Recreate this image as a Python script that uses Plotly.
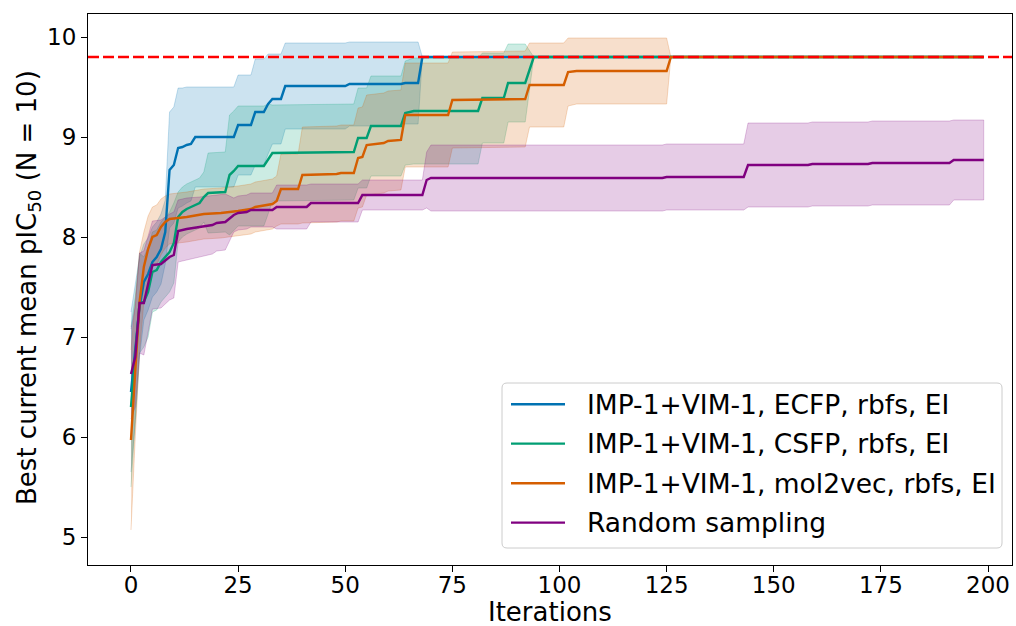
import plotly.graph_objects as go

# ---------------- data ----------------
names = ["IMP-1+VIM-1, ECFP, rbfs, EI",
         "IMP-1+VIM-1, CSFP, rbfs, EI",
         "IMP-1+VIM-1, mol2vec, rbfs, EI",
         "Random sampling"]

blue_it = [0, 1, 2, 3, 4, 5, 6, 7, 8, 9, 10, 11, 12, 13, 14, 15,
           24, 25, 28, 29, 31, 32, 33, 35, 36, 50, 51, 63, 64, 67, 68, 199]
blue_mean = [6.45, 6.85, 7.30, 7.55, 7.63, 7.75, 7.80, 7.88, 8.05, 8.67, 8.72, 8.89, 8.90, 8.92, 8.93, 9.00,
             9.00, 9.12, 9.12, 9.25, 9.25, 9.33, 9.38, 9.38, 9.51, 9.51, 9.53, 9.53, 9.54, 9.54, 9.80, 9.80]
blue_std = [0.80, 0.70, 0.50, 0.38, 0.36, 0.35, 0.35, 0.35, 0.32, 0.58, 0.58, 0.60, 0.59, 0.58, 0.57, 0.50,
            0.50, 0.50, 0.50, 0.53, 0.53, 0.50, 0.45, 0.45, 0.43, 0.43, 0.42, 0.42, 0.41, 0.41, 0.00, 0.00]

green_it = [0, 1, 2, 3, 4, 5, 6, 7, 8, 9, 10, 11, 12, 13, 14,
            16, 17, 18, 22, 23, 24, 25, 31, 32, 33, 52, 53, 55, 56, 63, 64, 66, 81, 82, 87, 88, 92, 93, 94, 199]
green_mean = [6.30, 6.80, 7.34, 7.35, 7.45, 7.65, 7.67, 7.75, 7.80, 7.85, 7.94, 8.20, 8.25, 8.28, 8.30,
              8.34, 8.40, 8.44, 8.45, 8.62, 8.66, 8.71, 8.71, 8.78, 8.84, 8.85, 8.99, 8.99, 9.11, 9.11,
              9.24, 9.26, 9.26, 9.39, 9.39, 9.54, 9.54, 9.67, 9.80, 9.80]
green_std = [0.80, 0.60, 0.50, 0.45, 0.45, 0.40, 0.40, 0.40, 0.40, 0.40, 0.40, 0.25, 0.25, 0.25, 0.25,
             0.25, 0.25, 0.40, 0.40, 0.60, 0.60, 0.60, 0.60, 0.55, 0.48, 0.48, 0.50, 0.50, 0.50, 0.50,
             0.52, 0.53, 0.53, 0.45, 0.45, 0.39, 0.39, 0.20, 0.00, 0.00]

orange_it = [0, 1, 2, 3, 4, 5, 6, 7, 8, 9,
             13, 17, 21, 25, 28, 29, 33, 34, 35, 39, 40, 48, 49, 52, 53, 54, 55, 59, 60, 63,
             64, 74, 75, 92, 93, 101, 102, 104, 125, 126, 199]
orange_mean = [5.97, 6.70, 7.35, 7.70, 7.88, 8.00, 8.02, 8.10, 8.15, 8.18,
               8.20, 8.23, 8.24, 8.26, 8.28, 8.30, 8.33, 8.36, 8.48, 8.48, 8.62, 8.63, 8.64, 8.64,
               8.79, 8.80, 8.92, 8.94, 8.96, 8.97, 9.22, 9.22, 9.37, 9.38, 9.52, 9.52, 9.65, 9.66,
               9.66, 9.80, 9.80]
orange_std = [0.90, 0.70, 0.50, 0.35, 0.33, 0.30, 0.30, 0.28, 0.26, 0.25,
              0.25, 0.25, 0.25, 0.25, 0.25, 0.25, 0.25, 0.25, 0.35, 0.35, 0.48, 0.48, 0.48, 0.48,
              0.50, 0.50, 0.50, 0.50, 0.50, 0.50, 0.52, 0.52, 0.48, 0.48, 0.42, 0.42, 0.34, 0.33,
              0.33, 0.00, 0.00]

purple_it = [0, 1, 2, 3, 5, 7, 9, 10, 11, 13, 16, 19, 20, 22, 24, 25, 27, 28, 33, 34,
             41, 42, 53, 54, 68, 69, 70, 124, 125, 143, 144, 158, 159, 172, 173, 191, 192, 199]
purple_mean = [6.63, 6.80, 7.34, 7.34, 7.72, 7.73, 7.80, 7.82, 8.06, 8.08, 8.10, 8.12, 8.14, 8.15,
               8.22, 8.24, 8.25, 8.27, 8.27, 8.30, 8.30, 8.34, 8.34, 8.42, 8.42, 8.57, 8.59, 8.59,
               8.60, 8.60, 8.72, 8.72, 8.73, 8.73, 8.74, 8.74, 8.77, 8.77]
purple_std = [0.45, 0.50, 0.50, 0.52, 0.44, 0.44, 0.43, 0.43, 0.31, 0.31, 0.30, 0.29, 0.28, 0.28,
              0.17, 0.17, 0.17, 0.17, 0.17, 0.22, 0.22, 0.19, 0.19, 0.15, 0.15, 0.28, 0.33, 0.33,
              0.33, 0.33, 0.42, 0.42, 0.42, 0.42, 0.42, 0.42, 0.40, 0.40]

target_value = 9.8
x_ticks = [0, 25, 50, 75, 100, 125, 150, 175, 200]
y_ticks = [5, 6, 7, 8, 9, 10]
x_title = "Iterations"
y_title = "Best current mean pIC<sub>50</sub> (N = 10)"

colors = ["#0072B2", "#009E73", "#D55E00", "#800080"]
band_fill = ["rgba(0,114,178,0.2)", "rgba(0,158,115,0.2)", "rgba(213,94,0,0.2)", "rgba(128,0,128,0.2)"]
band_edge = ["rgba(0,114,178,0.22)", "rgba(0,158,115,0.22)", "rgba(213,94,0,0.22)", "rgba(128,0,128,0.22)"]

series = [(blue_it, blue_mean, blue_std),
          (green_it, green_mean, green_std),
          (orange_it, orange_mean, orange_std),
          (purple_it, purple_mean, purple_std)]

FONT = "DejaVu Sans"
W, H = 1016, 626
ML, MR, MT, MB = 88, 4, 14, 61
PW, PH = W - ML - MR, H - MT - MB


def px(xp):
    return (xp - ML) / PW


def py(yp):
    return (H - MB - yp) / PH


fig = go.Figure()

# bands
for k, (it, m, s) in enumerate(series):
    upper = [a + b for a, b in zip(m, s)]
    lower = [a - b for a, b in zip(m, s)]
    fig.add_trace(go.Scatter(
        x=list(it) + list(it)[::-1],
        y=upper + lower[::-1],
        fill="toself", fillcolor=band_fill[k],
        line=dict(color=band_edge[k], width=1),
        mode="lines", showlegend=False, hoverinfo="skip"))

# mean lines
for k, (it, m, s) in enumerate(series):
    fig.add_trace(go.Scatter(
        x=it, y=m, mode="lines", name=names[k], showlegend=False,
        line=dict(color=colors[k], width=2.4)))

fig.add_shape(type="line", xref="paper", x0=0, x1=1, yref="y",
              y0=target_value, y1=target_value,
              line=dict(color="#ff0000", width=2.5, dash="11px,4px"))

# ---- legend box (matplotlib-style, rounded) ----
bx0, bx1, by0, by1 = 502, 1002, 383, 548
r = 5
rx, ry = r / PW, r / PH
X0, X1, Y0, Y1 = px(bx0), px(bx1), py(by1), py(by0)
path = (f"M{X0+rx},{Y0} L{X1-rx},{Y0} Q{X1},{Y0} {X1},{Y0+ry} "
        f"L{X1},{Y1-ry} Q{X1},{Y1} {X1-rx},{Y1} L{X0+rx},{Y1} Q{X0},{Y1} {X0},{Y1-ry} "
        f"L{X0},{Y0+ry} Q{X0},{Y0} {X0+rx},{Y0} Z")
fig.add_shape(type="path", xref="paper", yref="paper", path=path,
              line=dict(color="#cccccc", width=1), fillcolor="rgba(255,255,255,0.8)",
              layer="above")
entry_y = [404.3, 443.6, 483.2, 522.6]
for k in range(4):
    fig.add_shape(type="line", xref="paper", yref="paper",
                  x0=px(511), x1=px(565), y0=py(entry_y[k]), y1=py(entry_y[k]),
                  line=dict(color=colors[k], width=2.4), layer="above")
    fig.add_annotation(xref="paper", yref="paper", x=px(585), y=py(entry_y[k]),
                       text=names[k], showarrow=False, xanchor="left", yanchor="middle",
                       font=dict(family=FONT, size=26.5, color="black"))

# axis titles
fig.add_annotation(xref="paper", yref="paper", x=0.5, y=py(611.5), text=x_title,
                   showarrow=False, xanchor="center", yanchor="middle", height=28,
                   valign="middle", borderpad=0,
                   font=dict(family=FONT, size=26, color="black"))
fig.add_annotation(xref="paper", yref="paper", x=px(28), y=py(288), text=y_title,
                   showarrow=False, xanchor="center", yanchor="middle", textangle=-90,
                   font=dict(family=FONT, size=26, color="black"))

axis_common = dict(showline=True, linecolor="black", linewidth=1.2, mirror=True,
                   ticks="outside", ticklen=6, tickwidth=1.2, tickcolor="black",
                   showgrid=False, zeroline=False,
                   tickfont=dict(family=FONT, size=23, color="black"))

fig.update_layout(
    width=W, height=H,
    margin=dict(l=ML, r=MR, t=MT, b=MB),
    paper_bgcolor="white", plot_bgcolor="white",
    font=dict(family=FONT, color="black"),
    showlegend=False,
    xaxis=dict(range=[-10.03, 205.6], tickvals=x_ticks, ticklabelstandoff=-7, **axis_common),
    yaxis=dict(range=[4.72, 10.23], tickvals=y_ticks, **axis_common),
)

fig.write_html("out.html")
